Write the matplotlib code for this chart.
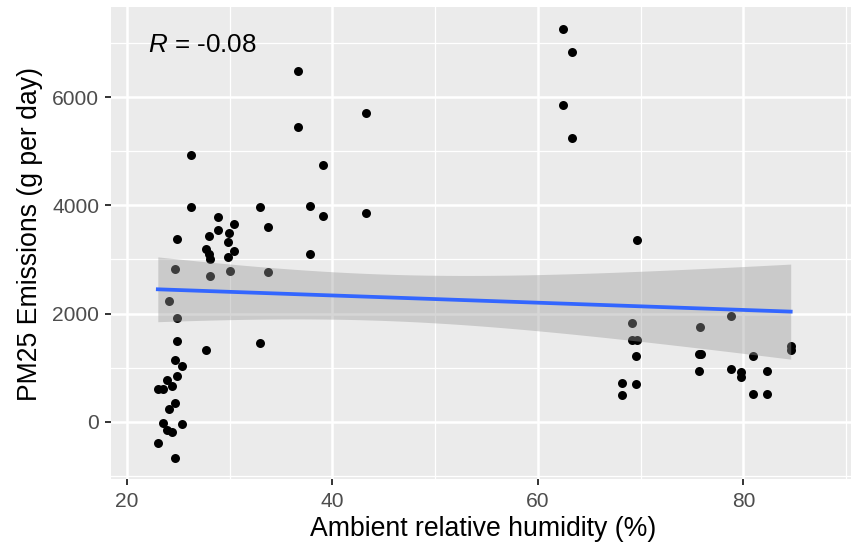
import numpy as np
import matplotlib
matplotlib.use("Agg")
import matplotlib.pyplot as plt

# ---- data ----
humidity = [
    26.2, 26.2, 32.9, 28.9, 30.4, 24.9, 28.0, 28.9, 29.9, 29.8,
    27.7, 28.0, 28.1, 30.4, 29.8, 24.7, 28.1, 30.0, 24.1, 24.9,
    24.9, 32.9, 27.7, 24.7, 25.4, 24.9, 23.9, 24.4, 23.0, 23.5,
    24.7, 24.1, 23.5, 25.4, 23.9, 24.4, 23.0, 24.7,
    36.6, 36.6, 43.3, 39.1, 37.8, 39.1, 43.3, 33.7, 37.8, 33.7,
    62.4, 63.3, 62.4, 63.3,
    69.6, 69.2, 69.2, 69.6, 69.5, 68.2, 69.5, 68.2,
    75.8, 75.7, 75.9, 75.7, 78.8, 78.8, 79.8, 79.8,
    80.9, 80.9, 82.3, 82.3, 84.6, 84.6,
]
pm25 = [
    4938, 3976, 3980, 3791, 3651, 3385, 3440, 3545, 3490, 3329,
    3189, 3102, 3009, 3152, 3052, 2830, 2700, 2782, 2238, 1923,
    1487, 1450, 1326, 1141, 1036, 845, 771, 660, 610, 610,
    351, 229, -30, -48, -154, -190, -388, -671,
    6492, 5456, 5704, 4753, 3989, 3810, 3860, 3595, 3107, 2763,
    7257, 6843, 5857, 5253,
    3361, 1820, 1515, 1511, 1210, 721, 697, 485,
    1757, 1255, 1255, 943, 1960, 975, 920, 835,
    1221, 520, 932, 520, 1400, 1330,
]
r_label = "-0.08"
x_title = "Ambient relative humidity (%)"
y_title = "PM25 Emissions (g per day)"
x_major = [20, 40, 60, 80]
x_minor = [30, 50, 70, 90]
y_major = [0, 2000, 4000, 6000]
y_minor = [-1000, 1000, 3000, 5000, 7000]

plt.rcParams["font.family"] = ["Liberation Sans", "DejaVu Sans"]
plt.rcParams["mathtext.fontset"] = "custom"
plt.rcParams["mathtext.rm"] = "Liberation Sans"
plt.rcParams["mathtext.it"] = "Liberation Sans:italic"

x = np.array(humidity, dtype=float)
y = np.array(pm25, dtype=float)

fig = plt.figure(figsize=(8.51, 5.47), dpi=100)
ax = fig.add_axes([0.13043, 0.12377, 0.87544, 0.86289])
ax.set_facecolor("#EBEBEB")
for s in ax.spines.values():
    s.set_visible(False)

ax.set_xlim(18.443, 90.955)
ax.set_ylim(-1065, 7664)

ax.set_xticks(x_major)
ax.set_xticks(x_minor, minor=True)
ax.set_yticks(y_major)
ax.set_yticks(y_minor, minor=True)
ax.grid(which="major", color="white", linewidth=1.8, zorder=0)
ax.grid(which="minor", color="white", linewidth=0.9, zorder=0)
ax.set_axisbelow(True)

ax.tick_params(which="major", length=4.3, width=1.4, color="#333333",
               labelsize=15.1, labelcolor="#4D4D4D")
ax.tick_params(axis="x", which="major", pad=4.6)
ax.tick_params(axis="y", which="major", pad=4.1)
ax.tick_params(which="minor", length=0)

# points
ax.scatter(x, y, s=42, color="black", linewidths=0, zorder=2)

# linear fit with 95% CI (like geom_smooth(method = "lm"))
n = len(x)
b1, b0 = np.polyfit(x, y, 1)
resid = y - (b0 + b1 * x)
s_err = np.sqrt(np.sum(resid ** 2) / (n - 2))
xs = np.linspace(x.min(), x.max(), 80)
ys = b0 + b1 * xs
t_val = 1.9935
se = s_err * np.sqrt(1.0 / n + (xs - x.mean()) ** 2 / np.sum((x - x.mean()) ** 2))
ax.fill_between(xs, ys - t_val * se, ys + t_val * se, color="#999999",
                alpha=0.4, linewidth=0, zorder=3)
ax.plot(xs, ys, color="#3366FF", linewidth=2.7, zorder=4)

ax.text(0.050, 0.906, r"$\mathit{R}$ = " + r_label, transform=ax.transAxes,
        fontsize=18.7, ha="left", va="baseline", color="black")

ax.set_xlabel(x_title, fontsize=19.2, color="black")
ax.set_ylabel(y_title, fontsize=19.2, color="black")
ax.xaxis.set_label_coords(0.5, -0.105)
ax.yaxis.set_label_coords(-0.109, 0.52)
ax.xaxis.label.set_va("center")
ax.yaxis.label.set_va("center")

fig.savefig("out.png", dpi=100, facecolor="white")
